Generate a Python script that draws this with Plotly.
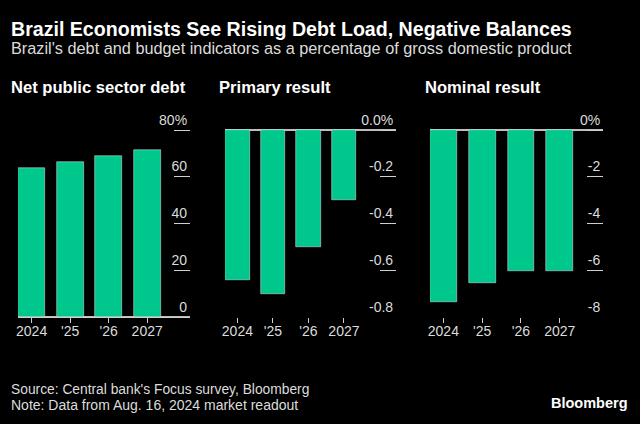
import plotly.graph_objects as go

years = ["2024", "'25", "'26", "2027"]
debt = [63.9, 66.5, 69.0, 71.6]
primary = [-0.64, -0.70, -0.50, -0.30]
nominal = [-7.35, -6.55, -6.03, -6.03]

debt_ticks = [0, 20, 40, 60, 80]
debt_ticktext = ["0", "20", "40", "60", "80%"]
prim_ticks = [-0.8, -0.6, -0.4, -0.2, 0.0]
prim_ticktext = ["-0.8", "-0.6", "-0.4", "-0.2", "0.0%"]
nom_ticks = [-8, -6, -4, -2, 0]
nom_ticktext = ["-8", "-6", "-4", "-2", "0%"]

GREEN = "#00c88c"
COND = "Liberation Sans, Arial, sans-serif"
BOLD = "Liberation Sans, Arial, sans-serif"
TICKC = "#cfcfcf"
LABC = "#dcdcdc"

W, H = 640, 424
xpos = list(range(len(years)))

fig = go.Figure()
fig.add_trace(go.Bar(x=xpos, y=debt, marker_color=GREEN, width=0.71, xaxis="x", yaxis="y"))
fig.add_trace(go.Bar(x=xpos, y=primary, marker_color=GREEN, width=0.70, xaxis="x2", yaxis="y2"))
fig.add_trace(go.Bar(x=xpos, y=nominal, marker_color=GREEN, width=0.69, xaxis="x3", yaxis="y3"))

# plot area: zero/bottom at y=317px, top tick at 130px; extra 22px headroom for top labels
Y_BOT, Y_TOP, HEAD = 317, 130, 22
ydom = [1 - Y_BOT / H, 1 - (Y_TOP - HEAD) / H]

def head(lo, hi):
    return hi + (hi - lo) * HEAD / (Y_BOT - Y_TOP)

def xax(dom, rng, showline=False):
    return dict(domain=[dom[0] / W, dom[1] / W], range=rng, tickvals=xpos, ticktext=years,
                ticks="outside", ticklen=5, tickcolor=TICKC, tickwidth=1,
                ticklabelstandoff=-4,
                tickfont=dict(family=COND, size=14, color=LABC),
                showgrid=False, zeroline=False, showline=showline, linecolor=TICKC, linewidth=1,
                fixedrange=True)

def yax(anchor, lo, hi, tv, tt):
    return dict(domain=ydom, range=[lo, head(lo, hi)], anchor=anchor, side="right",
                tickvals=tv, ticktext=tt,
                ticks="inside", ticklen=16, tickcolor=TICKC, tickwidth=1,
                ticklabelposition="inside top",
                tickfont=dict(family=COND, size=14, color=LABC),
                showgrid=False, zeroline=True, zerolinecolor="#bdbdbd", zerolinewidth=1.5,
                showline=False, fixedrange=True)

fig.update_layout(
    width=W, height=H, margin=dict(l=0, r=0, t=0, b=0),
    paper_bgcolor="black", plot_bgcolor="black", showlegend=False, bargap=0,
    xaxis=xax((15, 188), [-0.355, 4.115], showline=True),
    xaxis2=xax((223, 395), [-0.35, 4.47]),
    xaxis3=xax((429, 603), [-0.345, 4.12]),
    yaxis=yax("x", 0, 80, debt_ticks, debt_ticktext),
    yaxis2=yax("x2", -0.8, 0, prim_ticks, prim_ticktext),
    yaxis3=yax("x3", -8, 0, nom_ticks, nom_ticktext),
)

def ann(text, x, y, size, family, color="white", xanchor="left"):
    fig.add_annotation(text=text, x=x / W, y=1 - y / H, xref="paper", yref="paper",
                       xanchor=xanchor, yanchor="middle", showarrow=False,
                       font=dict(family=family, size=size, color=color))

ann("<b>Brazil Economists See Rising Debt Load, Negative Balances</b>", 6, 29, 19.6, BOLD)
ann("Brazil's debt and budget indicators as a percentage of gross domestic product", 6, 48, 16.3, COND, LABC)
ann("<b>Net public sector debt</b>", 6, 88, 16.6, BOLD)
ann("<b>Primary result</b>", 215, 88, 16.6, BOLD)
ann("<b>Nominal result</b>", 422, 88, 16.6, BOLD)
ann("Source: Central bank's Focus survey, Bloomberg", 6, 389, 13.8, COND, LABC)
ann("Note: Data from Aug. 16, 2024 market readout", 6, 405, 14, COND, LABC)
ann("<b>Bloomberg</b>", 630, 403, 14.5, BOLD, "white", xanchor="right")

fig.write_html("out.html")
